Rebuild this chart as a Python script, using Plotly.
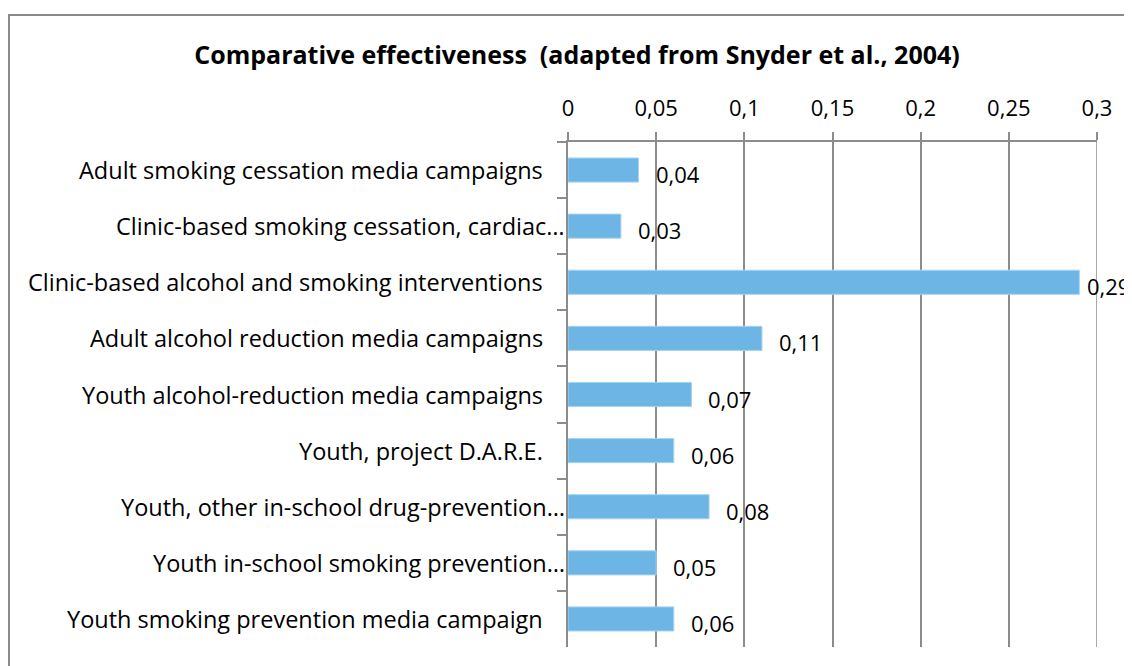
import plotly.graph_objects as go

categories = [
    "Adult smoking cessation media campaigns",
    "Clinic-based smoking cessation, cardiac…",
    "Clinic-based alcohol and smoking interventions",
    "Adult alcohol reduction media campaigns",
    "Youth alcohol-reduction media campaigns",
    "Youth, project D.A.R.E.",
    "Youth, other in-school drug-prevention…",
    "Youth in-school smoking prevention…",
    "Youth smoking prevention media campaign",
]
values = [0.04, 0.03, 0.29, 0.11, 0.07, 0.06, 0.08, 0.05, 0.06]
tick_vals = [0, 0.05, 0.1, 0.15, 0.2, 0.25, 0.3]
tick_text = ["0", "0,05", "0,1", "0,15", "0,2", "0,25", "0,3"]
title_text = "Comparative effectiveness  (adapted from Snyder et al., 2004)"

FONT = "Open Sans"
GRID = "#8c8c8c"
BAR = "#6db5e5"
X_MAX = 0.3

# page has an 8px body margin; figure is sized so it ends at the window edge
W, H = 1124, 658
ML, MR, MT, MB = 560, 35, 134, 19
PW, PH = W - ML - MR, H - MT - MB

fig = go.Figure()
fig.add_trace(go.Bar(
    x=values, y=categories, orientation="h",
    marker=dict(color=BAR, line=dict(color="#a9d3f0", width=1)),
    hoverinfo="x+y",
))

annotations = []
for c, v in zip(categories, values):
    near_edge = v > X_MAX * 0.93
    annotations.append(dict(
        x=v, y=c, xref="x", yref="y", text=f"{v:.2f}".replace(".", ","),
        showarrow=False, xanchor="left", yanchor="middle",
        xshift=6 if near_edge else 15, yshift=-4,
        font=dict(family=FONT, size=22, color="#000"),
    ))
    truncated = c.endswith("…")
    annotations.append(dict(
        x=0, y=c, xref="paper", yref="y", text=c,
        showarrow=False, xanchor="right", yanchor="middle",
        xshift=-1 if truncated else -23,
        font=dict(family=FONT, size=23.5, color="#000"),
    ))

fig.update_layout(
    width=W, height=H,
    margin=dict(l=ML, r=MR, t=MT, b=MB),
    paper_bgcolor="white", plot_bgcolor="white",
    bargap=0.57,
    showlegend=False,
    title=dict(text="<b>" + title_text + "</b>", x=(577 - 8) / W, xanchor="center",
               xref="container", y=1 - (55 - 8) / H, yanchor="middle", yref="container",
               font=dict(family=FONT, size=25, color="#000")),
    xaxis=dict(
        side="top", range=[0, X_MAX], tickvals=tick_vals, ticktext=tick_text,
        showgrid=True, gridcolor=GRID, gridwidth=1.5,
        showline=True, linecolor=GRID, linewidth=1.5,
        ticks="outside", ticklen=8, tickcolor=GRID, tickwidth=1.5,
        zeroline=False, tickfont=dict(family=FONT, size=22, color="#000"),
        ticklabelstandoff=7,
        fixedrange=True,
    ),
    yaxis=dict(
        autorange="reversed", showticklabels=False,
        showline=True, linecolor=GRID, linewidth=1.5,
        ticks="outside", tickson="boundaries", ticklen=9, tickcolor=GRID, tickwidth=1.5,
        showgrid=False, fixedrange=True,
    ),
    annotations=annotations,
    shapes=[
        dict(type="line", xref="x", yref="paper", x0=X_MAX, x1=X_MAX, y0=0, y1=1,
             line=dict(color=GRID, width=1.5), layer="below"),
        dict(type="rect", xref="paper", yref="paper",
             x0=(1 - ML) / PW, x1=(W + 10 - ML) / PW,
             y0=-30 / PH, y1=(H - MB - 7) / PH,
             line=dict(color="#8a8a8a", width=2), fillcolor="rgba(0,0,0,0)"),
    ],
)

fig.write_html("out.html")
